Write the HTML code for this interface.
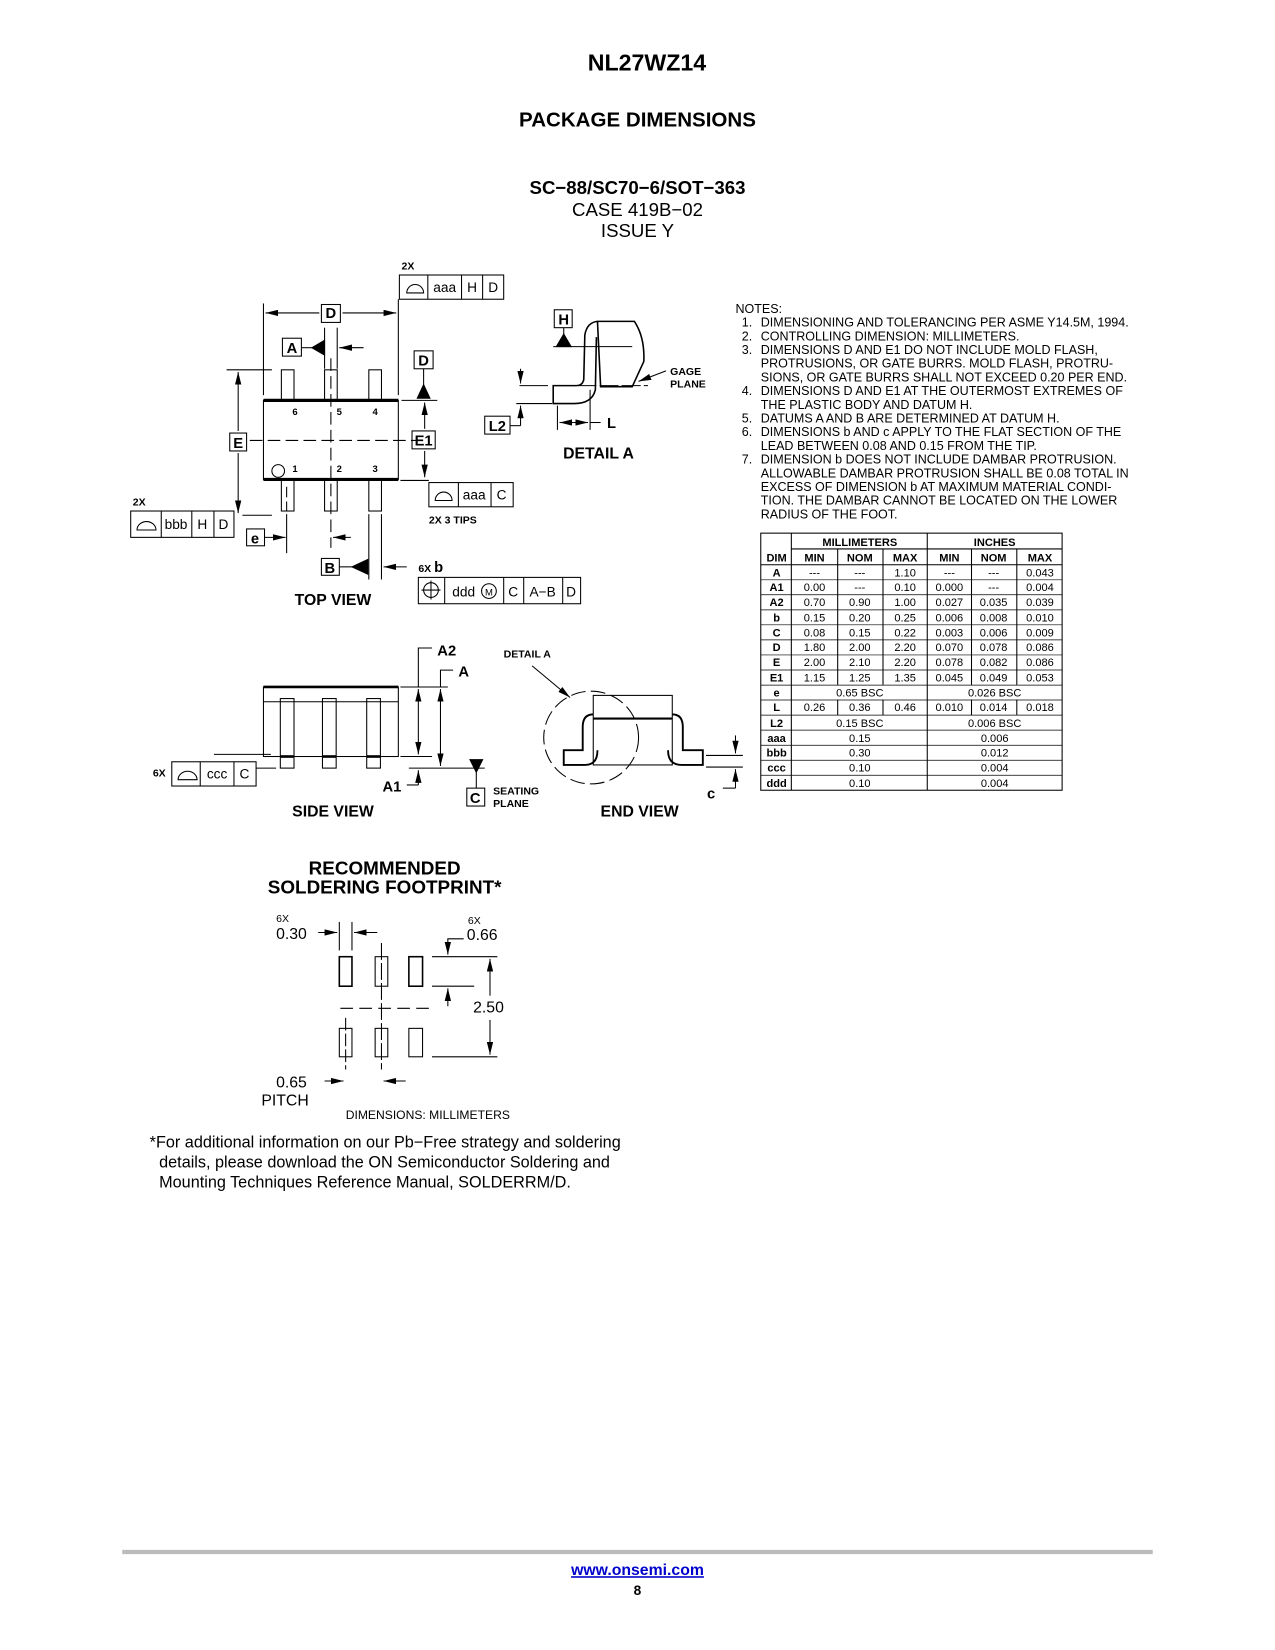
<!DOCTYPE html>
<html><head><meta charset="utf-8"><style>
html,body{margin:0;padding:0;background:#fff}
svg{display:block}
text{font-family:"Liberation Sans",sans-serif;fill:#000}
.b{font-weight:bold}
</style></head><body>
<svg width="1275" height="1650" viewBox="0 0 1210 1566" xmlns="http://www.w3.org/2000/svg">
<defs>
<marker id="ar" viewBox="0 0 12 6" refX="12" refY="3" markerWidth="12" markerHeight="6" markerUnits="userSpaceOnUse" orient="auto-start-reverse"><path d="M0,0 L12,3 L0,6 z" fill="#000"/></marker>
</defs>
<g stroke="#000" fill="none" stroke-width="1">
<!-- TOP VIEW -->
<rect x="250" y="380" width="128" height="75"/>
<line x1="250" y1="380" x2="378" y2="380" stroke-width="3"/>
<line x1="250" y1="455" x2="378" y2="455" stroke-width="3"/>
<rect x="267" y="351" width="12" height="29"/><rect x="308" y="351" width="12" height="29"/><rect x="350" y="351" width="12" height="29"/>
<rect x="267" y="455" width="12" height="30"/><rect x="308" y="455" width="12" height="30"/><rect x="350" y="455" width="12" height="30"/>
<line x1="314" y1="340" x2="314" y2="520" stroke-dasharray="12,5"/>
<line x1="237" y1="418" x2="397" y2="418" stroke-dasharray="12,5"/>
<line x1="272" y1="462" x2="272" y2="485" stroke-dasharray="10,4"/>
<circle cx="264" cy="447" r="6"/>
<line x1="250" y1="288" x2="250" y2="375"/><line x1="378" y1="284" x2="378" y2="375"/>
<line x1="252" y1="297" x2="303" y2="297" marker-start="url(#ar)"/><line x1="325" y1="297" x2="376" y2="297" marker-end="url(#ar)"/>
<rect x="305" y="289" width="18" height="17"/>
<rect x="379" y="261" width="99" height="23"/><line x1="406" y1="261" x2="406" y2="284"/><line x1="438" y1="261" x2="438" y2="284"/><line x1="458" y1="261" x2="458" y2="284"/>
<path d="M386,278 a8,8 0 0 1 16,0 z"/>
<rect x="268" y="321" width="18" height="17"/>
<line x1="286" y1="330" x2="296" y2="330"/><path d="M296,330 L308,323 L308,337 z" fill="#000"/>
<line x1="308" y1="311" x2="308" y2="350"/><line x1="320" y1="311" x2="320" y2="350"/>
<line x1="345" y1="330" x2="322" y2="330" marker-end="url(#ar)"/>
<rect x="393" y="333" width="18" height="17"/><line x1="402" y1="350" x2="402" y2="366"/><path d="M402,365 L396,378 L408,378 z" fill="#000"/>
<line x1="381" y1="380" x2="415" y2="380"/>
<rect x="391" y="409" width="22" height="17"/>
<line x1="403" y1="407" x2="403" y2="382" marker-end="url(#ar)"/><line x1="403" y1="428" x2="403" y2="453" marker-end="url(#ar)"/>
<line x1="380" y1="456" x2="407" y2="456"/>
<rect x="407" y="458" width="80" height="23"/><line x1="435" y1="458" x2="435" y2="481"/><line x1="466" y1="458" x2="466" y2="481"/>
<path d="M413,475 a8,8 0 0 1 16,0 z"/>
<rect x="218" y="411" width="16" height="17"/>
<line x1="226" y1="409" x2="226" y2="353" marker-end="url(#ar)"/><line x1="226" y1="430" x2="226" y2="487" marker-end="url(#ar)"/>
<line x1="215" y1="351" x2="258" y2="351"/><line x1="230" y1="489" x2="258" y2="489"/>
<rect x="124" y="485" width="98" height="25"/><line x1="153" y1="485" x2="153" y2="510"/><line x1="182" y1="485" x2="182" y2="510"/><line x1="203" y1="485" x2="203" y2="510"/>
<path d="M130,503 a9,8 0 0 1 18,0 z"/>
<rect x="234" y="502" width="17" height="16"/>
<line x1="251" y1="510" x2="271" y2="510" marker-end="url(#ar)"/>
<line x1="272" y1="488" x2="272" y2="525"/>
<line x1="333" y1="510" x2="316" y2="510" marker-end="url(#ar)"/>
<rect x="305" y="530" width="17" height="16"/>
<line x1="322" y1="538" x2="334" y2="538"/><path d="M334,538 L349,531 L349,545 z" fill="#000"/>
<line x1="350" y1="488" x2="350" y2="550"/><line x1="362" y1="488" x2="362" y2="550"/>
<line x1="386" y1="538" x2="364" y2="538" marker-end="url(#ar)"/>
<rect x="397" y="548" width="154" height="25"/><line x1="422" y1="548" x2="422" y2="573"/><line x1="478" y1="548" x2="478" y2="573"/><line x1="497" y1="548" x2="497" y2="573"/><line x1="534" y1="548" x2="534" y2="573"/>
<circle cx="409" cy="560" r="7"/><line x1="400" y1="560" x2="418" y2="560"/><line x1="409" y1="551" x2="409" y2="569"/>
<circle cx="464" cy="561" r="7"/>
<!-- DETAIL A -->
<rect x="526" y="294" width="17" height="17"/>
<line x1="535" y1="311" x2="535" y2="318"/><path d="M535,317 L528,329 L542,329 z" fill="#000"/>
<line x1="525" y1="329" x2="600" y2="329"/>
<path d="M567,305 L602,305 Q612,320 611,343 L600,367 L570,367 Z" stroke-width="1.5"/>
<path d="M567,305 Q557,306 555,318 L554,360 Q553,366 547,366 L525,366 L525,383 L545,383 Q562,383 565,370 L566,320" stroke-width="1.5"/>
<line x1="493" y1="366" x2="520" y2="366"/><line x1="548" y1="366" x2="615" y2="366" stroke-dasharray="18,3"/>
<line x1="632" y1="352" x2="606" y2="362" marker-end="url(#ar)"/>
<line x1="494" y1="350" x2="494" y2="364" marker-end="url(#ar)"/>
<line x1="494" y1="398" x2="494" y2="385" marker-end="url(#ar)"/>
<line x1="490" y1="383" x2="524" y2="383"/>
<rect x="460" y="395" width="24" height="17"/><line x1="484" y1="404" x2="494" y2="404"/><line x1="494" y1="404" x2="494" y2="398"/>
<line x1="529" y1="385" x2="529" y2="408"/><line x1="560" y1="370" x2="560" y2="408"/>
<line x1="544" y1="401" x2="531" y2="401" marker-end="url(#ar)"/><line x1="544" y1="401" x2="558" y2="401" marker-end="url(#ar)"/>
<line x1="560" y1="401" x2="570" y2="401"/>
<!-- SIDE VIEW -->
<rect x="250" y="652" width="128" height="66"/>
<line x1="250" y1="652" x2="378" y2="652" stroke-width="2.5"/>
<line x1="250" y1="666" x2="378" y2="666"/>
<rect x="266" y="663" width="13" height="66"/><rect x="306" y="663" width="13" height="66"/><rect x="348" y="663" width="13" height="66"/>
<line x1="266" y1="718" x2="279" y2="718" stroke-width="2.5"/><line x1="306" y1="718" x2="319" y2="718" stroke-width="2.5"/><line x1="348" y1="718" x2="361" y2="718" stroke-width="2.5"/>
<line x1="203" y1="716" x2="257" y2="716"/><line x1="243" y1="729" x2="262" y2="729"/><line x1="388" y1="729" x2="460" y2="729"/>
<line x1="380" y1="652" x2="425" y2="652"/><line x1="380" y1="718" x2="410" y2="718"/>
<line x1="397" y1="654" x2="397" y2="716" marker-start="url(#ar)" marker-end="url(#ar)"/>
<line x1="418" y1="654" x2="418" y2="727" marker-start="url(#ar)" marker-end="url(#ar)"/>
<polyline points="397,652 397,615 410,615"/><polyline points="418,652 418,636 430,636"/>
<line x1="397" y1="745" x2="397" y2="731" marker-end="url(#ar)"/><polyline points="386,745 397,745"/>
<rect x="163" y="723" width="80" height="23"/><line x1="190" y1="723" x2="190" y2="746"/><line x1="222" y1="723" x2="222" y2="746"/>
<path d="M169,740 a9,8 0 0 1 18,0 z"/>
<path d="M446,721 L458,721 L452,733 z" fill="#000"/><line x1="452" y1="733" x2="452" y2="748"/>
<rect x="443" y="748" width="17" height="17"/>
<!-- END VIEW -->
<rect x="563" y="660" width="75" height="66"/>
<line x1="563" y1="682" x2="638" y2="682" stroke-width="2"/>
<path d="M563,678 Q553,678 553,690 L553,712 L535,712 L535,726 L555,726 Q567,726 567,712" stroke-width="1.8"/>
<path d="M638,678 Q648,678 648,690 L648,712 L667,712 L667,726 L647,726 Q634,726 634,712" stroke-width="1.8"/>
<ellipse cx="561" cy="700" rx="45" ry="44" stroke-dasharray="14,5"/>
<line x1="505" y1="632" x2="541" y2="662" marker-end="url(#ar)"/>
<line x1="670" y1="717" x2="705" y2="717"/><line x1="670" y1="728" x2="705" y2="728"/>
<line x1="698" y1="698" x2="698" y2="715" marker-end="url(#ar)"/>
<line x1="698" y1="748" x2="698" y2="730" marker-end="url(#ar)"/><line x1="686" y1="748" x2="698" y2="748"/>
<!-- FOOTPRINT -->
<rect x="322" y="908" width="12" height="28" stroke-width="1.5"/><rect x="356" y="908" width="12" height="28"/><rect x="388" y="908" width="13" height="28" stroke-width="1.5"/>
<rect x="322" y="976" width="12" height="27"/><rect x="356" y="976" width="12" height="27"/><rect x="388" y="976" width="13" height="27"/>
<line x1="323" y1="957" x2="410" y2="957" stroke-dasharray="12,6"/>
<line x1="362" y1="895" x2="362" y2="1015" stroke-dasharray="16,3"/>
<line x1="328" y1="966" x2="328" y2="1015" stroke-dasharray="12,3"/>
<line x1="322" y1="875" x2="322" y2="902"/><line x1="334" y1="875" x2="334" y2="902"/>
<line x1="302" y1="885" x2="320" y2="885" marker-end="url(#ar)"/><line x1="358" y1="885" x2="336" y2="885" marker-end="url(#ar)"/>
<polyline points="440,891 425,891 425,906" marker-end="url(#ar)"/>
<line x1="410" y1="908" x2="472" y2="908"/><line x1="410" y1="936" x2="450" y2="936"/><line x1="410" y1="1003" x2="472" y2="1003"/>
<line x1="425" y1="955" x2="425" y2="938" marker-end="url(#ar)"/>
<line x1="465" y1="945" x2="465" y2="910" marker-end="url(#ar)"/><line x1="465" y1="968" x2="465" y2="1001" marker-end="url(#ar)"/>
<line x1="308" y1="1026" x2="326" y2="1026" marker-end="url(#ar)"/><line x1="385" y1="1026" x2="364" y2="1026" marker-end="url(#ar)"/>
<!-- TABLE -->
<rect x="722" y="506" width="286" height="244"/>
<line x1="751" y1="506" x2="751" y2="750"/><line x1="880" y1="506" x2="880" y2="750"/>
<line x1="751" y1="521" x2="1008" y2="521"/>
<line x1="722" y1="536" x2="1008" y2="536"/>
<line x1="795" y1="521" x2="795" y2="650"/><line x1="838" y1="521" x2="838" y2="650"/>
<line x1="922" y1="521" x2="922" y2="650"/><line x1="965" y1="521" x2="965" y2="650"/>
<line x1="795" y1="664" x2="795" y2="679"/><line x1="838" y1="664" x2="838" y2="679"/>
<line x1="922" y1="664" x2="922" y2="679"/><line x1="965" y1="664" x2="965" y2="679"/>
<g stroke-width="0.7">
<line x1="722" y1="550.3" x2="1008" y2="550.3"/><line x1="722" y1="564.5" x2="1008" y2="564.5"/><line x1="722" y1="578.8" x2="1008" y2="578.8"/><line x1="722" y1="593" x2="1008" y2="593"/><line x1="722" y1="607.3" x2="1008" y2="607.3"/><line x1="722" y1="621.6" x2="1008" y2="621.6"/><line x1="722" y1="635.9" x2="1008" y2="635.9"/><line x1="722" y1="650.2" x2="1008" y2="650.2"/><line x1="722" y1="664.4" x2="1008" y2="664.4"/><line x1="722" y1="678.7" x2="1008" y2="678.7"/><line x1="722" y1="693" x2="1008" y2="693"/><line x1="722" y1="707.3" x2="1008" y2="707.3"/><line x1="722" y1="721.5" x2="1008" y2="721.5"/><line x1="722" y1="735.8" x2="1008" y2="735.8"/>
</g>
<line x1="116" y1="1473" x2="1094" y2="1473" stroke="#bbb" stroke-width="4"/>
</g>

<g text-anchor="middle">
<text x="614" y="67" font-size="22" class="b">NL27WZ14</text>
<text x="605" y="120" font-size="19.5" class="b">PACKAGE DIMENSIONS</text>
<text x="605" y="184" font-size="17.7" class="b">SC−88/SC70−6/SOT−363</text>
<text x="605" y="205" font-size="17.7">CASE 419B−02</text>
<text x="605" y="225" font-size="17.7">ISSUE Y</text>
<text x="314" y="302" font-size="14" class="b">D</text>
<text x="277" y="335" font-size="14" class="b">A</text>
<text x="402" y="347" font-size="14" class="b">D</text>
<text x="402" y="423" font-size="14" class="b">E1</text>
<text x="226" y="425" font-size="14" class="b">E</text>
<text x="242" y="516" font-size="14" class="b">e</text>
<text x="313" y="544" font-size="14" class="b">B</text>
<text x="535" y="308" font-size="14" class="b">H</text>
<text x="472" y="409" font-size="14" class="b">L2</text>
<text x="451" y="762" font-size="14" class="b">C</text>
<text x="280" y="394" font-size="9" class="b">6</text><text x="322" y="394" font-size="9" class="b">5</text><text x="356" y="394" font-size="9" class="b">4</text>
<text x="280" y="448" font-size="9" class="b">1</text><text x="322" y="448" font-size="9" class="b">2</text><text x="356" y="448" font-size="9" class="b">3</text>
<text x="422" y="277" font-size="13">aaa</text><text x="448" y="277" font-size="13">H</text><text x="468" y="277" font-size="13">D</text>
<text x="450" y="474" font-size="13">aaa</text><text x="476" y="474" font-size="13">C</text>
<text x="167" y="502" font-size="13">bbb</text><text x="192" y="502" font-size="13">H</text><text x="212" y="502" font-size="13">D</text>
<text x="440" y="566" font-size="13">ddd</text><text x="464" y="565" font-size="9">M</text><text x="487" y="566" font-size="13">C</text><text x="515" y="566" font-size="13">A−B</text><text x="542" y="566" font-size="13">D</text>
<text x="206" y="739" font-size="13">ccc</text><text x="232" y="739" font-size="13">C</text>
<text x="316" y="574" font-size="15" class="b">TOP VIEW</text>
<text x="568" y="435" font-size="15" class="b">DETAIL A</text>
<text x="316" y="775" font-size="15" class="b">SIDE VIEW</text>
<text x="607" y="775" font-size="15" class="b">END VIEW</text>
<text x="365" y="830" font-size="17.9" class="b">RECOMMENDED</text>
<text x="365" y="848" font-size="17.9" class="b">SOLDERING FOOTPRINT*</text>
<text x="406" y="1062" font-size="11.5">DIMENSIONS: MILLIMETERS</text>
<text x="605" y="1495" font-size="15" class="b" style="fill:#0000cc;text-decoration:underline">www.onsemi.com</text>
<text x="605" y="1514" font-size="13" class="b">8</text>
</g>
<g font-size="10" class="b">
<text x="381" y="256" class="b">2X</text><text x="126" y="480" class="b">2X</text>
<text x="407" y="497" class="b">2X 3 TIPS</text>
<text x="397" y="543" class="b">6X <tspan font-size="14">b</tspan></text>
<text x="636" y="356" class="b">GAGE</text><text x="636" y="368" class="b">PLANE</text>
<text x="145" y="737" class="b">6X</text>
<text x="468" y="754" class="b">SEATING</text><text x="468" y="766" class="b">PLANE</text>
<text x="478" y="624" class="b">DETAIL A</text>
</g>
<g font-size="14" class="b">
<text x="576" y="406">L</text>
<text x="415" y="622">A2</text><text x="435" y="642">A</text>
<text x="363" y="751">A1</text>
<text x="671" y="758">c</text>
</g>
<g font-size="15">
<text x="262" y="891">0.30</text><text x="443" y="892">0.66</text>
<text x="449" y="961">2.50</text>
<text x="262" y="1032">0.65</text><text x="248" y="1049">PITCH</text>
</g>
<g font-size="15.4">
<text x="142" y="1089">*For additional information on our Pb−Free strategy and soldering</text>
<text x="151" y="1108">details, please download the ON Semiconductor Soldering and</text>
<text x="151" y="1127">Mounting Techniques Reference Manual, SOLDERRM/D.</text>
</g>
<g font-size="10"><text x="262" y="875">6X</text><text x="444" y="877">6X</text></g>
<g font-size="11.9">
<text x="698" y="297">NOTES:</text>
<text x="704" y="310">1.</text><text x="722" y="310">DIMENSIONING AND TOLERANCING PER ASME Y14.5M, 1994.</text>
<text x="704" y="323">2.</text><text x="722" y="323">CONTROLLING DIMENSION: MILLIMETERS.</text>
<text x="704" y="336">3.</text><text x="722" y="336">DIMENSIONS D AND E1 DO NOT INCLUDE MOLD FLASH,</text>
<text x="722" y="349">PROTRUSIONS, OR GATE BURRS. MOLD FLASH, PROTRU-</text>
<text x="722" y="362">SIONS, OR GATE BURRS SHALL NOT EXCEED 0.20 PER END.</text>
<text x="704" y="375">4.</text><text x="722" y="375">DIMENSIONS D AND E1 AT THE OUTERMOST EXTREMES OF</text>
<text x="722" y="388">THE PLASTIC BODY AND DATUM H.</text>
<text x="704" y="401">5.</text><text x="722" y="401">DATUMS A AND B ARE DETERMINED AT DATUM H.</text>
<text x="704" y="414">6.</text><text x="722" y="414">DIMENSIONS b AND c APPLY TO THE FLAT SECTION OF THE</text>
<text x="722" y="427">LEAD BETWEEN 0.08 AND 0.15 FROM THE TIP.</text>
<text x="704" y="440">7.</text><text x="722" y="440">DIMENSION b DOES NOT INCLUDE DAMBAR PROTRUSION.</text>
<text x="722" y="453">ALLOWABLE DAMBAR PROTRUSION SHALL BE 0.08 TOTAL IN</text>
<text x="722" y="466">EXCESS OF DIMENSION b AT MAXIMUM  MATERIAL CONDI-</text>
<text x="722" y="479">TION. THE DAMBAR CANNOT BE LOCATED ON THE LOWER</text>
<text x="722" y="492">RADIUS OF THE FOOT.</text>
</g>
<g font-size="10.5" text-anchor="middle">
<text x="816" y="518" class="b">MILLIMETERS</text><text x="944" y="518" class="b">INCHES</text>
<text x="737" y="533" class="b">DIM</text><text x="773" y="533" class="b">MIN</text><text x="816" y="533" class="b">NOM</text><text x="859" y="533" class="b">MAX</text><text x="901" y="533" class="b">MIN</text><text x="943" y="533" class="b">NOM</text><text x="987" y="533" class="b">MAX</text>
<text x="737" y="547" class="b">A</text><text x="773" y="547">---</text><text x="816" y="547">---</text><text x="859" y="547">1.10</text><text x="901" y="547">---</text><text x="943" y="547">---</text><text x="987" y="547">0.043</text>
<text x="737" y="561" class="b">A1</text><text x="773" y="561">0.00</text><text x="816" y="561">---</text><text x="859" y="561">0.10</text><text x="901" y="561">0.000</text><text x="943" y="561">---</text><text x="987" y="561">0.004</text>
<text x="737" y="575" class="b">A2</text><text x="773" y="575">0.70</text><text x="816" y="575">0.90</text><text x="859" y="575">1.00</text><text x="901" y="575">0.027</text><text x="943" y="575">0.035</text><text x="987" y="575">0.039</text>
<text x="737" y="590" class="b">b</text><text x="773" y="590">0.15</text><text x="816" y="590">0.20</text><text x="859" y="590">0.25</text><text x="901" y="590">0.006</text><text x="943" y="590">0.008</text><text x="987" y="590">0.010</text>
<text x="737" y="604" class="b">C</text><text x="773" y="604">0.08</text><text x="816" y="604">0.15</text><text x="859" y="604">0.22</text><text x="901" y="604">0.003</text><text x="943" y="604">0.006</text><text x="987" y="604">0.009</text>
<text x="737" y="618" class="b">D</text><text x="773" y="618">1.80</text><text x="816" y="618">2.00</text><text x="859" y="618">2.20</text><text x="901" y="618">0.070</text><text x="943" y="618">0.078</text><text x="987" y="618">0.086</text>
<text x="737" y="632" class="b">E</text><text x="773" y="632">2.00</text><text x="816" y="632">2.10</text><text x="859" y="632">2.20</text><text x="901" y="632">0.078</text><text x="943" y="632">0.082</text><text x="987" y="632">0.086</text>
<text x="737" y="647" class="b">E1</text><text x="773" y="647">1.15</text><text x="816" y="647">1.25</text><text x="859" y="647">1.35</text><text x="901" y="647">0.045</text><text x="943" y="647">0.049</text><text x="987" y="647">0.053</text>
<text x="737" y="661" class="b">e</text><text x="816" y="661">0.65 BSC</text><text x="944" y="661">0.026 BSC</text>
<text x="737" y="675" class="b">L</text><text x="773" y="675">0.26</text><text x="816" y="675">0.36</text><text x="859" y="675">0.46</text><text x="901" y="675">0.010</text><text x="943" y="675">0.014</text><text x="987" y="675">0.018</text>
<text x="737" y="690" class="b">L2</text><text x="816" y="690">0.15 BSC</text><text x="944" y="690">0.006 BSC</text>
<text x="737" y="704" class="b">aaa</text><text x="816" y="704">0.15</text><text x="944" y="704">0.006</text>
<text x="737" y="718" class="b">bbb</text><text x="816" y="718">0.30</text><text x="944" y="718">0.012</text>
<text x="737" y="732" class="b">ccc</text><text x="816" y="732">0.10</text><text x="944" y="732">0.004</text>
<text x="737" y="747" class="b">ddd</text><text x="816" y="747">0.10</text><text x="944" y="747">0.004</text>
</g>
</svg>
</body></html>
